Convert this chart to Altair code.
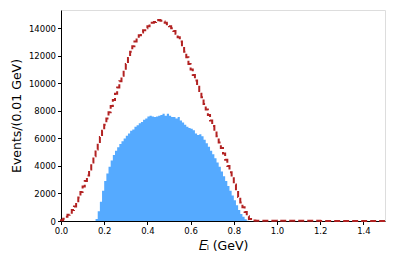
import altair as alt
import pandas as pd

# bin left edges (GeV), 0.01 GeV bins from 0 to 1.5
edges = [round(i * 0.01, 2) for i in range(150)]

red_counts = [
    60, 170, 300, 450, 600, 800, 1050, 1350, 1700, 2100,
    2500, 2900, 3300, 3750, 4250, 4700, 5200, 5650, 6100, 6550,
    7000, 7450, 7900, 8350, 8800, 9250, 9700, 10150, 10550, 10950,
    11400, 11850, 12300, 12700, 13050, 13300, 13500, 13700, 13850, 14000,
    14150, 14300, 14400, 14450, 14500, 14600, 14550, 14500, 14400, 14300,
    14150, 14000, 13800, 13600, 13350, 13050, 12700, 12300, 11900, 11400,
    11000, 10600, 10200, 9850, 9450, 9000, 8500, 8100, 7700, 7300,
    6900, 6550, 6150, 5700, 5300, 4900, 4450, 4000, 3550, 3100,
    2650, 2200, 1750, 1350, 1000, 650, 350, 150, 60, 30,
] + [20] * 10 + [10] * 20 + [5] * 30

blue_counts = [0] * 16 + [
    150, 700, 1400, 2200,
    2900, 3450, 3950, 4400, 4800, 5100, 5350, 5600, 5800, 6000,
    6200, 6350, 6550, 6650, 6850, 6950, 7100, 7200, 7350, 7450,
    7600, 7650, 7600, 7550, 7600, 7650, 7700, 7800, 7650, 7800,
    7650, 7550, 7550, 7450, 7550, 7300, 7150, 7000, 6850, 6750,
    6700, 6600, 6350, 6250, 6300, 6150, 5900, 5650, 5400, 5100,
    4850, 4550, 4250, 3950, 3600, 3250, 2900, 2550, 2200, 1850,
    1500, 1150, 800, 500, 300, 120, 20,
] + [0] * 63

x_ticks = [0.0, 0.2, 0.4, 0.6, 0.8, 1.0, 1.2, 1.4]
y_ticks = [0, 2000, 4000, 6000, 8000, 10000, 12000, 14000]

# step data: add closing edge at 1.5
red_df = pd.DataFrame({"x": [0.0] + edges + [1.5], "y": [0] + red_counts + [red_counts[-1]]})
blue_df = pd.DataFrame({"x": edges + [1.5], "y": blue_counts + [blue_counts[-1]]})

FONT = "DejaVu Sans"

x_scale = alt.Scale(domain=[0, 1.5], nice=False, zero=False)
y_scale = alt.Scale(domain=[0, 15330], nice=False)

common = dict(
    grid=False, labelFontSize=8.5, titleFontSize=12.5, titleFont=FONT, labelFont=FONT,
    tickSize=3.5, labelPadding=2, domainColor="black", tickColor="black",
    labelColor="black", titleColor="black", titleFontWeight="normal",
    labelOverlap=False, labelFlush=False, labelBound=False,
)
x_axis = alt.Axis(values=x_ticks, format=".1f", title="𝐸ₗ (GeV)", titlePadding=4, **common)
y_axis = alt.Axis(values=y_ticks, format="d", title="Events/(0.01 GeV)", titlePadding=5, **common)

blue = alt.Chart(blue_df).mark_area(interpolate="step-after", color="#55aaff", opacity=1).encode(
    x=alt.X("x:Q", scale=x_scale, axis=x_axis),
    y=alt.Y("y:Q", scale=y_scale, axis=y_axis),
)

red = alt.Chart(red_df).mark_line(
    interpolate="step-after", color="#b22222", strokeWidth=2, strokeDash=[6, 3]
).encode(
    x=alt.X("x:Q", scale=x_scale, axis=x_axis),
    y=alt.Y("y:Q", scale=y_scale, axis=y_axis),
)

chart = (
    alt.layer(blue, red)
    .properties(
        width=324, height=211,
        autosize=alt.AutoSizeParams(type="none"),
        padding={"left": 53, "top": 2, "right": 2, "bottom": 35},
    )
    .configure_view(stroke="#888888", strokeWidth=1)
    .configure_axis(labelOverlap=False)
    .configure(background="white")
)

chart.save("out.html", embed_options={"renderer": "svg", "actions": False})
